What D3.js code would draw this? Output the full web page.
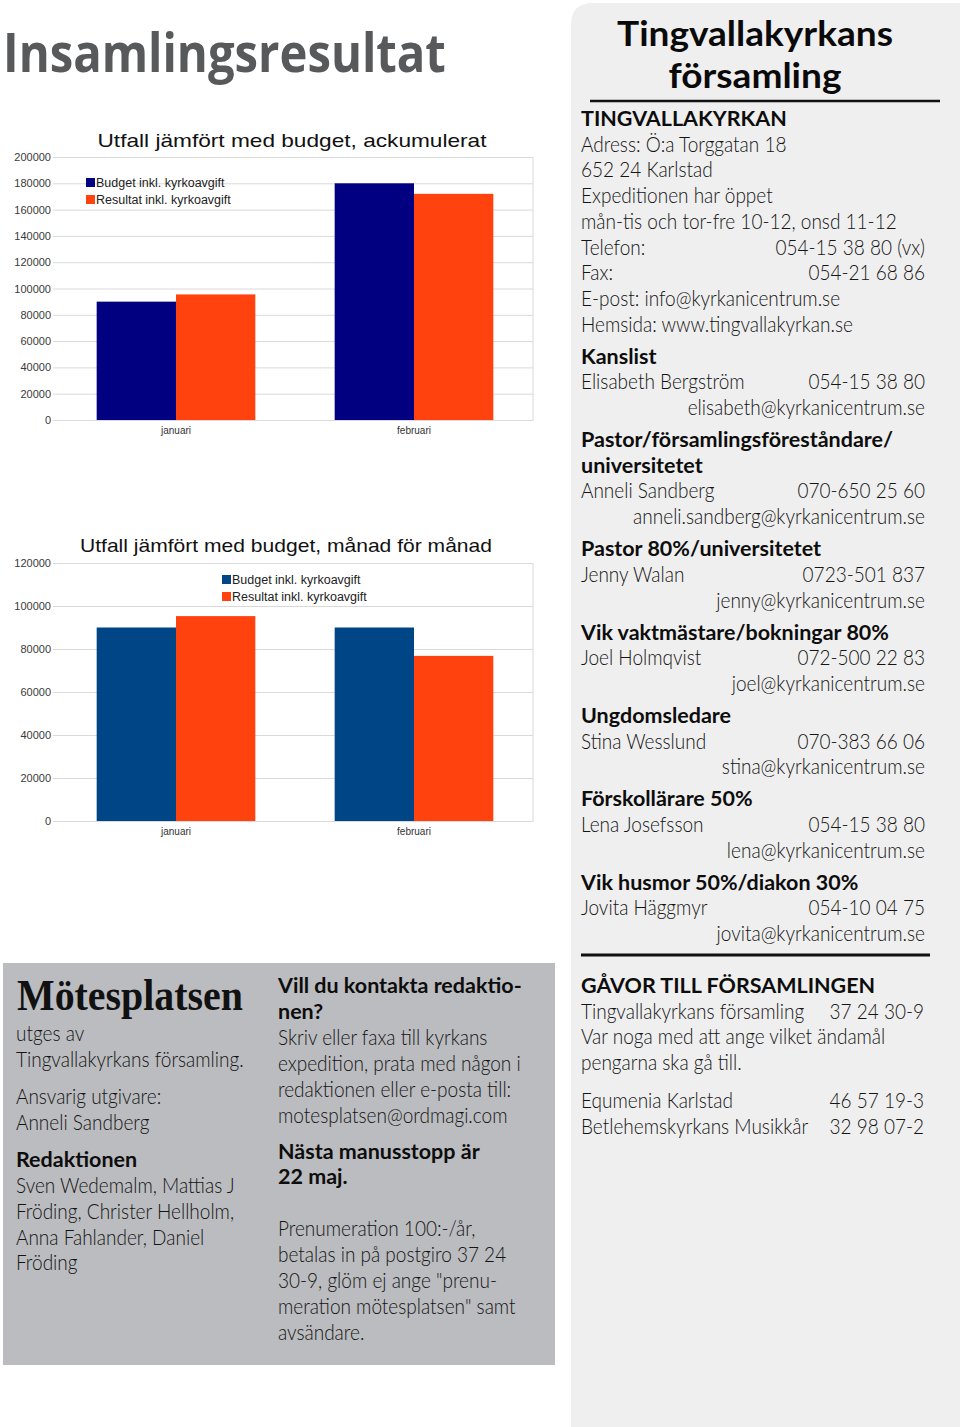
<!DOCTYPE html>
<html><head><meta charset="utf-8">
<script src="https://cdn.jsdelivr.net/npm/d3@7/dist/d3.min.js"></script>
<style>html,body{margin:0;padding:0;background:#fff}svg{display:block}</style>
</head><body>
<svg id="page" width="960" height="1427"></svg>
<script>
// ---------- DATA ----------
const months = ["januari", "februari"];
const seriesNames = ["Budget inkl. kyrkoavgift", "Resultat inkl. kyrkoavgift"];
const cumulativeBudget = [90000, 180000];
const cumulativeResult = [95500, 172000];
const monthlyBudget = [90000, 90000];
const monthlyResult = [95300, 76800];
const cumulativeTicks = [0, 20000, 40000, 60000, 80000, 100000, 120000, 140000, 160000, 180000, 200000];
const monthlyTicks = [0, 20000, 40000, 60000, 80000, 100000, 120000];
const chartTitles = ["Utfall jämfört med budget, ackumulerat", "Utfall jämfört med budget, månad för månad"];
const pageTitle = "Insamlingsresultat";
const churchTitle = ["Tingvallakyrkans", "församling"];
const churchBlocks = [
  {head: ["TINGVALLAKYRKAN"], lines: [
    ["Adress: Ö:a Torggatan 18"], ["652 24 Karlstad"], ["Expeditionen har öppet"],
    ["mån-tis och tor-fre 10-12, onsd 11-12"], ["Telefon:", "054-15 38 80 (vx)"],
    ["Fax:", "054-21 68 86"], ["E-post: info@kyrkanicentrum.se"], ["Hemsida: www.tingvallakyrkan.se"]]},
  {head: ["Kanslist"], lines: [["Elisabeth Bergström", "054-15 38 80"], ["", "elisabeth@kyrkanicentrum.se"]]},
  {head: ["Pastor/församlingsföreståndare/", "universitetet"], lines: [["Anneli Sandberg", "070-650 25 60"], ["", "anneli.sandberg@kyrkanicentrum.se"]]},
  {head: ["Pastor 80%/universitetet"], lines: [["Jenny Walan", "0723-501 837"], ["", "jenny@kyrkanicentrum.se"]]},
  {head: ["Vik vaktmästare/bokningar 80%"], lines: [["Joel Holmqvist", "072-500 22 83"], ["", "joel@kyrkanicentrum.se"]]},
  {head: ["Ungdomsledare"], lines: [["Stina Wesslund", "070-383 66 06"], ["", "stina@kyrkanicentrum.se"]]},
  {head: ["Förskollärare 50%"], lines: [["Lena Josefsson", "054-15 38 80"], ["", "lena@kyrkanicentrum.se"]]},
  {head: ["Vik husmor 50%/diakon 30%"], lines: [["Jovita Häggmyr", "054-10 04 75"], ["", "jovita@kyrkanicentrum.se"]]}
];
const giftBlocks = [
  {head: ["GÅVOR TILL FÖRSAMLINGEN"], lines: [["Tingvallakyrkans församling", "37 24 30-9"],
    ["Var noga med att ange vilket ändamål"], ["pengarna ska gå till."]]},
  {head: [], lines: [["Equmenia Karlstad", "46 57 19-3"], ["Betlehemskyrkans Musikkår", "32 98 07-2"]]}
];
const mastName = "Mötesplatsen";
const colophonLeft = [
  [["utges av", 0], ["Tingvallakyrkans församling.", 0]],
  [["Ansvarig utgivare:", 0], ["Anneli Sandberg", 0]],
  [["Redaktionen", 1], ["Sven Wedemalm, Mattias J", 0], ["Fröding, Christer Hellholm,", 0], ["Anna Fahlander, Daniel", 0], ["Fröding", 0]]
];
const colophonRight = [
  [["Vill du kontakta redaktio-", 1], ["nen?", 1], ["Skriv eller faxa till kyrkans", 0], ["expedition, prata med någon i", 0],
   ["redaktionen eller e-posta till:", 0], ["motesplatsen@ordmagi.com", 0]],
  [["Nästa manusstopp är", 1], ["22 maj.", 1], ["", 0], ["Prenumeration 100:-/år,", 0], ["betalas in på postgiro 37 24", 0],
   ["30-9, glöm ej ange \"prenu-", 0], ["meration mötesplatsen\" samt", 0], ["avsändare.", 0]]
];

// ---------- RENDER ----------
const svg = d3.select("#page");
svg.append("rect").attr("width", 960).attr("height", 1427).attr("fill", "#ffffff");
svg.append("path").attr("d", "M571,1427 L571,25 Q571,3 593,3 L960,3 L960,1427 Z").attr("fill", "#efefef");
svg.append("rect").attr("x", 3).attr("y", 963).attr("width", 552).attr("height", 402).attr("fill", "#bbbcbf");

const SANS = "Lato, 'Open Sans', sans-serif";
const styles = {
  body:  {family: SANS, size: 21, weight: 300, fill: "#141414", sample: "mån-tis och tor-fre 10-12, onsd 11-12", target: 316},
  bold:  {family: SANS, size: 21, weight: 700, fill: "#0d0d0d", sample: "Vik vaktmästare/bokningar 80%", target: 308},
  title: {family: SANS, size: 35, weight: 700, fill: "#0a0a0a", sample: "Tingvallakyrkans", target: 276},
  page:  {family: "'Open Sans', sans-serif", size: 54, weight: 700, fill: "#58595b", sample: "Insamlingsresultat", target: 443},
  mast:  {family: "'Liberation Serif', 'DejaVu Serif', serif", size: 45, weight: 700, fill: "#111111", sample: "Mötesplatsen", target: 226}
};
function applyFont(sel, st) {
  return sel.attr("font-family", st.family).attr("font-size", st.size).attr("font-weight", st.weight).attr("fill", st.fill);
}
function calib(st) {
  const t = applyFont(svg.append("text"), st).text(st.sample);
  const w = t.node().getComputedTextLength();
  t.remove();
  st.sx = w > 0 ? st.target / w : 1;
}
Object.values(styles).forEach(calib);
function put(x, y, s, st, anchor) {
  const t = svg.append("text").attr("transform", `translate(${x},${y}) scale(${st.sx},1)`)
    .attr("text-anchor", anchor || "start").text(s);
  applyFont(t, st);
  return t;
}

// page title
put(3, 72, pageTitle, styles.page);

// ---------- charts ----------
const CHART_FONT = "'Liberation Sans', Arial, sans-serif";
function barChart(o) {
  const g = svg.append("g");
  const x0 = d3.scaleBand().domain(months).range([o.left, o.right]).paddingInner(1 / 3).paddingOuter(1 / 6);
  const x1 = d3.scaleBand().domain(seriesNames).range([0, x0.bandwidth()]);
  const y = d3.scaleLinear().domain([0, o.max]).range([o.bottom, o.top]);

  const grid = g.append("g").attr("transform", `translate(${o.left - 4},0)`)
    .call(d3.axisLeft(y).tickValues(o.ticks).tickSize(-(o.right - o.left + 4)).tickPadding(2).tickFormat(d3.format("d")));
  grid.select(".domain").remove();
  grid.selectAll(".tick line").attr("stroke", "#d9d9d9");
  grid.selectAll(".tick text").attr("font-family", CHART_FONT).attr("font-size", 11).attr("fill", "#3a3a3a");
  g.append("line").attr("x1", o.right).attr("x2", o.right).attr("y1", o.top).attr("y2", o.bottom).attr("stroke", "#d9d9d9");

  const rows = months.map((m, i) => ({m, vals: o.series.map((s, j) => ({name: seriesNames[j], v: s[i], c: o.colors[j]}))}));
  g.selectAll("g.grp").data(rows).join("g").attr("class", "grp")
    .attr("transform", d => `translate(${x0(d.m)},0)`)
    .selectAll("rect").data(d => d.vals).join("rect")
    .attr("x", d => x1(d.name)).attr("y", d => y(d.v))
    .attr("width", x1.bandwidth()).attr("height", d => y(0) - y(d.v))
    .attr("fill", d => d.c);

  const xa = g.append("g").attr("transform", `translate(0,${o.bottom})`)
    .call(d3.axisBottom(x0).tickSize(0).tickPadding(7));
  xa.select(".domain").attr("stroke", "#d9d9d9");
  xa.selectAll("text").attr("font-family", CHART_FONT).attr("font-size", 10).attr("fill", "#333");

  g.append("text").attr("x", o.titleX).attr("y", o.titleY).attr("text-anchor", "middle")
    .attr("font-family", CHART_FONT).attr("font-size", 19).attr("fill", "#111")
    .attr("textLength", o.titleW).attr("lengthAdjust", "spacingAndGlyphs").text(o.title);

  const lg = g.append("g").attr("transform", `translate(${o.legX},${o.legY})`);
  seriesNames.forEach((s, j) => {
    lg.append("rect").attr("x", 0).attr("y", j * 17).attr("width", 9).attr("height", 9).attr("fill", o.colors[j]);
    lg.append("text").attr("x", 10).attr("y", j * 17 + 9).attr("font-family", CHART_FONT).attr("font-size", 12.5)
      .attr("fill", "#222").text(s);
  });
}

barChart({left: 57, right: 533, top: 157, bottom: 420, max: 200000, ticks: cumulativeTicks,
  series: [cumulativeBudget, cumulativeResult], colors: ["#000080", "#ff420e"],
  title: chartTitles[0], titleX: 292, titleY: 147, titleW: 389, legX: 86, legY: 178});
barChart({left: 57, right: 533, top: 563, bottom: 821, max: 120000, ticks: monthlyTicks,
  series: [monthlyBudget, monthlyResult], colors: ["#004586", "#ff420e"],
  title: chartTitles[1], titleX: 286, titleY: 552, titleW: 412, legX: 222, legY: 575});

// ---------- right panel ----------
{
  const st = styles.title;
  const t = svg.append("text").attr("transform", `translate(755,46) scale(${st.sx},1)`).attr("text-anchor", "middle");
  applyFont(t, st);
  churchTitle.forEach((s, i) => t.append("tspan").attr("x", 0).attr("y", i * 42.5).text(s));
}
svg.append("line").attr("x1", 590).attr("x2", 940).attr("y1", 101).attr("y2", 101).attr("stroke", "#111").attr("stroke-width", 2.5);

function layoutBlocks(blocks, y0, step, gap, xl, xr) {
  let y = y0;
  blocks.forEach((b, bi) => {
    if (bi > 0) y += gap - step;
    b.head.forEach(h => { put(xl, y, h, styles.bold); y += step; });
    b.lines.forEach(l => {
      if (l[0]) put(xl, y, l[0], styles.body);
      if (l[1]) put(xr, y, l[1], styles.body, "end");
      y += step;
    });
  });
}
layoutBlocks(churchBlocks, 126, 25.7, 32, 581, 925);
svg.append("line").attr("x1", 581).attr("x2", 930).attr("y1", 955).attr("y2", 955).attr("stroke", "#111").attr("stroke-width", 3);
layoutBlocks(giftBlocks, 993, 25.7, 38, 581, 924);

// ---------- colophon ----------
put(17, 1010, mastName, styles.mast);
function layoutParas(paras, x, y0, step, gap) {
  let y = y0;
  paras.forEach((p, pi) => {
    if (pi > 0) y += gap - step;
    p.forEach(l => { if (l[0]) put(x, y, l[0], l[1] ? styles.bold : styles.body); y += step; });
  });
}
layoutParas(colophonLeft, 16, 1041, 25.9, 37);
layoutParas(colophonRight, 278, 993, 25.9, 36);
</script>
</body></html>
